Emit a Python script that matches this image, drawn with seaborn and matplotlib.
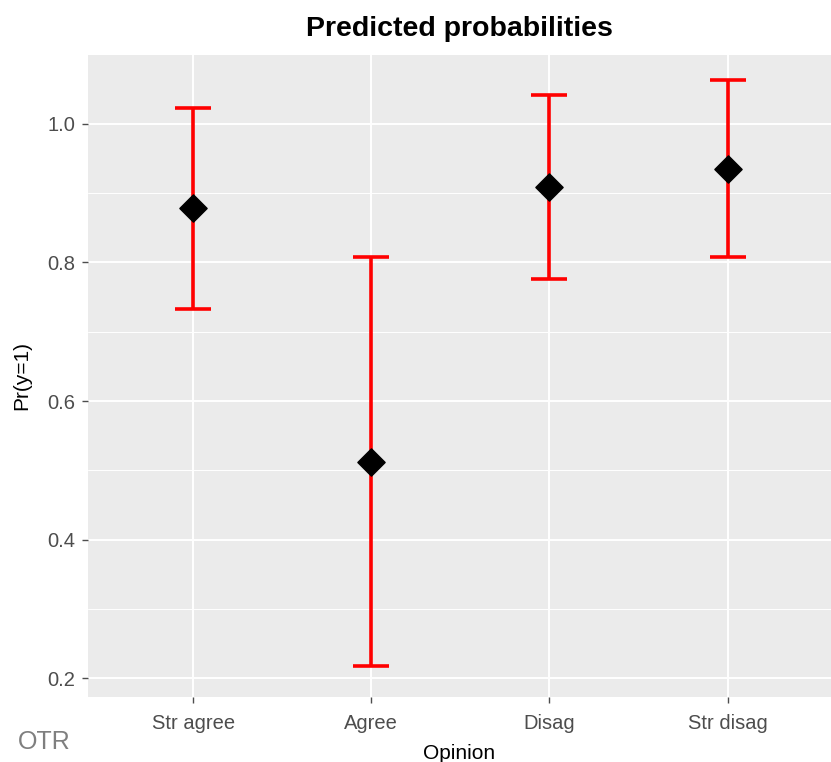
import matplotlib
matplotlib.use("Agg")
import matplotlib.pyplot as plt
import seaborn as sns
import numpy as np
import pandas as pd

categories = ["Str agree", "Agree", "Disag", "Str disag"]
prob = [0.879, 0.512, 0.909, 0.935]
upper = [1.023, 0.808, 1.042, 1.064]
lower = [0.733, 0.217, 0.776, 0.808]

df = pd.DataFrame({"Opinion": categories, "prob": prob, "ub": upper, "lb": lower})

sns.set_theme(style="darkgrid")
plt.rcParams["font.family"] = ["Liberation Sans", "DejaVu Sans"]

fig = plt.figure(figsize=(8.31, 7.62), dpi=100)
ax = fig.add_axes([88 / 831, 65 / 762, 743 / 831, 642 / 762])
ax.set_facecolor("#EBEBEB")

pos = np.arange(len(categories))
ax.errorbar(pos, df["prob"], yerr=[df["prob"] - df["lb"], df["ub"] - df["prob"]],
            fmt="none", ecolor="red", elinewidth=2.6, capsize=13, capthick=2.6, zorder=3)
sns.scatterplot(data=df, x="Opinion", y="prob", marker="D", s=190, color="black",
                edgecolor="black", ax=ax, zorder=4)

ax.set_xlim(-0.59, 3.58)
ax.set_ylim(0.1726, 1.0996)
ax.set_xticks(pos)
ax.set_xticklabels(categories)
ax.set_yticks([0.2, 0.4, 0.6, 0.8, 1.0])
ax.set_yticklabels(["0.2", "0.4", "0.6", "0.8", "1.0"])
ax.set_yticks([0.3, 0.5, 0.7, 0.9], minor=True)
ax.grid(which="major", color="white", linewidth=1.4)
ax.grid(which="minor", axis="y", color="white", linewidth=0.7)
for s in ax.spines.values():
    s.set_visible(False)
ax.tick_params(axis="both", which="major", colors="#4D4D4D", labelsize=14.5,
               length=4, width=1, left=True, bottom=True, pad=5)
ax.tick_params(axis="x", which="major", pad=8)
ax.tick_params(axis="both", which="minor", length=0)
for t in ax.get_xticklabels() + ax.get_yticklabels():
    t.set_color("#4D4D4D")

ax.set_xlabel("Opinion", fontsize=15, color="black", labelpad=8)
ax.set_ylabel("Pr(y=1)", fontsize=15, color="black", labelpad=12)
ax.set_title("Predicted probabilities", fontsize=20.5, fontweight="bold", color="black", pad=14)

fig.text(18 / 831, 8 / 762, "OTR", fontsize=18, color="#7F7F7F", ha="left", va="bottom")

fig.savefig("out.png", dpi=100)
